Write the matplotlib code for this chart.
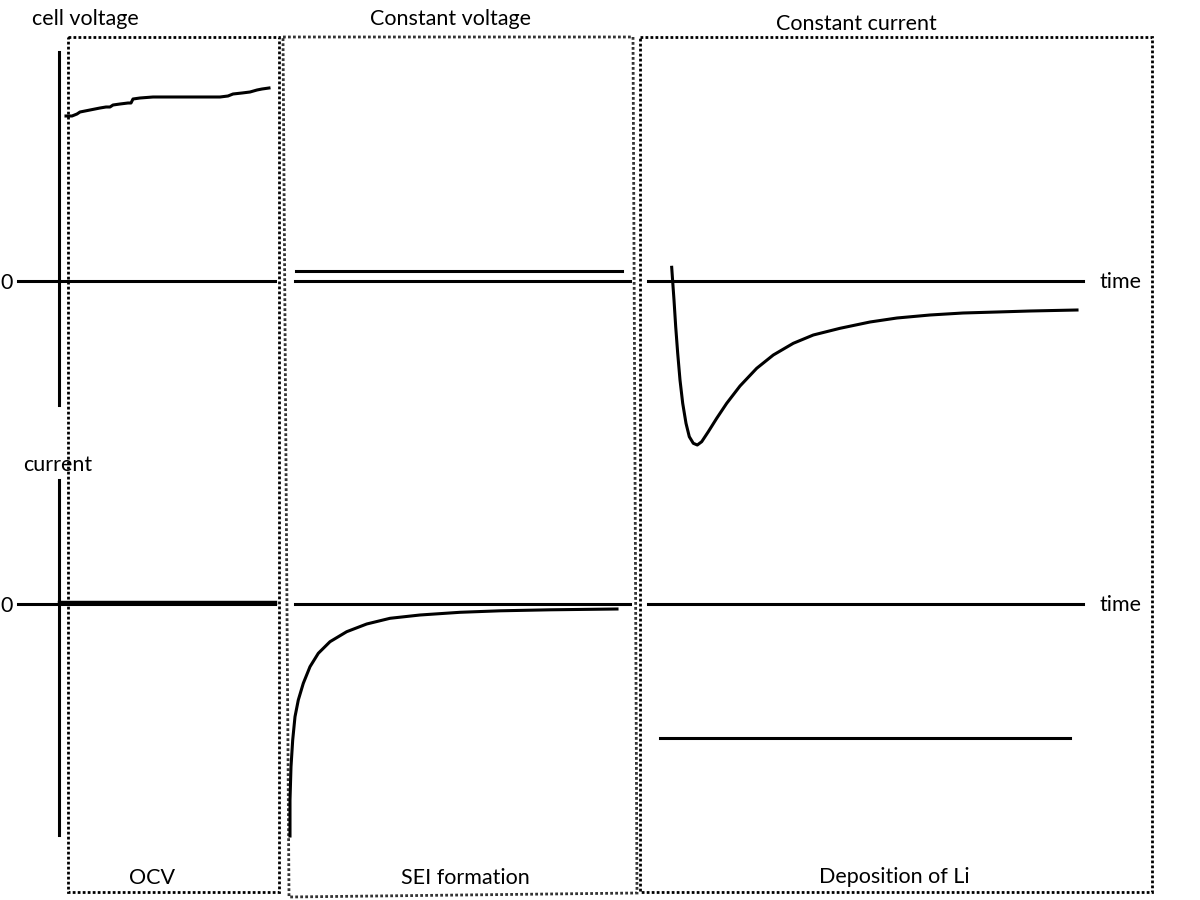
import matplotlib.pyplot as plt
from matplotlib.patches import Polygon, Rectangle

plt.rcParams['font.family'] = ['Lato', 'DejaVu Sans']

# schematic coordinates (x = time position, y = level, pixels from the top)
zero_v = 281
zero_i = 604
zero_segments = [(18, 275), (295, 630), (648, 1083)]

# OCV: cell voltage creeping up
ocv_t = [66, 72, 77, 80, 90, 100, 106, 110, 113, 120, 128, 131, 133, 140, 153, 177, 200, 220, 228, 233, 242, 250, 257, 262, 269]
ocv_v = [116, 116, 114, 112, 110, 108, 107, 107, 105, 104, 103, 103, 99, 98, 97, 97, 97, 97, 96, 94, 93, 92, 90, 89, 88]
ocv_i_t = [60, 275]
ocv_i = [603, 603]

# constant voltage: flat voltage, current decaying to zero
cv_t = [296, 622]
cv_v = [271, 271]
sei_t = [290, 290, 291, 292.7, 295, 298.3, 303.3, 310, 318.3, 330, 346.7, 366.7, 390, 420, 460, 500, 550, 617]
sei_i = [836, 800, 766.7, 740, 716.7, 700, 683.3, 666.7, 653.3, 641.7, 631.7, 624, 618.3, 615, 612.3, 610.8, 609.8, 609]

# constant current: voltage dip and recovery, flat current
cc_t = [671.7, 672.7, 674, 675.7, 677.7, 680, 682.7, 686, 689.3, 693.3, 697.3, 701.7, 708.3, 716.7, 726.7, 740,
        756.7, 773.3, 793.3, 813.3, 840, 870, 897, 930, 963, 997, 1030, 1077]
cc_v = [267.3, 281.7, 300, 326.7, 353.3, 380, 403.3, 423.3, 436.7, 443.3, 445, 441.7, 431.7, 418.3, 403.3, 386,
        368.3, 355, 343.3, 335, 328.3, 322, 318, 315, 313, 312, 311, 310]
cc_i_t = [660, 1070]
cc_i = [738, 738]

fig = plt.figure(figsize=(12, 9), dpi=100)
ax = fig.add_axes([0, 0, 1, 1])
ax.set_xlim(0, 1200)
ax.set_ylim(900, 0)
ax.axis('off')

lw = 2.2
# axes
ax.plot([59, 59], [52, 405], 'k-', lw=lw)
ax.plot([59, 59], [480, 835], 'k-', lw=lw)
for x0, x1 in zero_segments:
    ax.plot([x0, x1], [zero_v, zero_v], 'k-', lw=lw)
    ax.plot([x0, x1], [zero_i, zero_i], 'k-', lw=lw)

# curves
ax.plot(ocv_t, ocv_v, 'k-', lw=lw, solid_joinstyle='round')
ax.plot(ocv_i_t, ocv_i, 'k-', lw=3.2)
ax.plot(cv_t, cv_v, 'k-', lw=lw)
ax.plot(sei_t, sei_i, 'k-', lw=lw, solid_joinstyle='round')
ax.plot(cc_t, cc_v, 'k-', lw=lw, solid_joinstyle='round')
ax.plot(cc_i_t, cc_i, 'k-', lw=lw)

# dotted phase boxes
dots = (0, (1, 0.8))
ax.add_patch(Rectangle((68, 37), 211, 855, fill=False, ec='k', lw=2.0, ls=dots))
ax.add_patch(Polygon([(283, 37), (633, 37), (637, 893), (289, 897)], closed=True,
                     fill=False, ec='#333333', lw=2.0, ls=dots))
ax.add_patch(Rectangle((640, 37), 512, 855, fill=False, ec='k', lw=2.0, ls=dots))

fs = 15.5
ax.text(85, 19, 'cell voltage', fontsize=fs, ha='center', va='center')
ax.text(451, 19, 'Constant voltage', fontsize=fs, ha='center', va='center')
ax.text(856, 24, 'Constant current', fontsize=fs, ha='center', va='center')
ax.text(58, 465, 'current', fontsize=fs, ha='center', va='center')
ax.text(152, 878, 'OCV', fontsize=fs, ha='center', va='center')
ax.text(465, 878, 'SEI formation', fontsize=fs, ha='center', va='center')
ax.text(894, 877, 'Deposition of Li', fontsize=fs, ha='center', va='center')
for y in (zero_v, zero_i):
    ax.text(7, y + 2, '0', fontsize=fs, ha='center', va='center')
    ax.text(1120, y + 1, 'time', fontsize=fs, ha='center', va='center')

plt.savefig('out.png')
